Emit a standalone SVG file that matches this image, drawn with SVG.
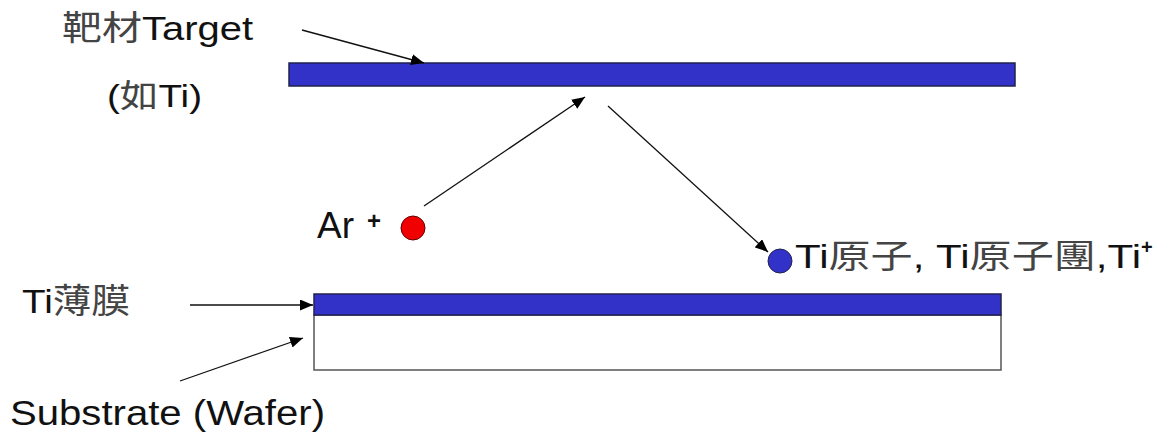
<svg xmlns="http://www.w3.org/2000/svg" width="1159" height="442" viewBox="0 0 1159 442">
<style>
.t{font-family:"Liberation Sans","Noto Sans CJK TC",sans-serif;fill:#111;font-weight:normal;}
.k{fill:#444;}
.p{font-family:"Liberation Sans",sans-serif;font-weight:bold;fill:#111;}
.c{stroke:#111;stroke-width:1.3;fill:none;}
.bar{fill:#3232c8;stroke:#222250;stroke-width:1.5;}
</style>
<defs>
<marker id="ah" viewBox="0 0 13 11" refX="13" refY="5.5" markerWidth="13" markerHeight="11" markerUnits="userSpaceOnUse" orient="auto">
<path d="M0,0 L13,5.5 L0,11 z" fill="#000"/>
</marker>
</defs>
<rect width="1159" height="442" fill="#fff"/>
<g id="target">
<rect class="bar" x="289" y="63" width="726" height="23"/>
</g>
<g id="target-label">
<text class="t" x="62" y="40" font-size="34" textLength="191" lengthAdjust="spacingAndGlyphs"><tspan class="k">靶材</tspan>Target</text>
<text class="t" x="107" y="107" font-size="32" textLength="95" lengthAdjust="spacingAndGlyphs">(<tspan class="k">如</tspan>Ti)</text>
</g>
<g id="ar-ion">
<circle cx="413" cy="228" r="12" fill="#f00000" stroke="#600" stroke-width="1"/>
<text class="t" x="317" y="238" font-size="36" textLength="37" lengthAdjust="spacingAndGlyphs">Ar</text>
<text class="p" x="367" y="229" font-size="24">+</text>
</g>
<g id="ti-atom">
<circle cx="780" cy="261" r="12" fill="#3232c8" stroke="#222250" stroke-width="1"/>
<text class="t" x="795" y="268" font-size="33" textLength="346" lengthAdjust="spacingAndGlyphs">Ti<tspan class="k">原子</tspan>, Ti<tspan class="k">原子團</tspan>,Ti</text>
<text class="p" x="1141" y="254" font-size="20">+</text>
</g>
<g id="ti-film">
<rect x="314" y="315" width="687" height="55" fill="#fff" stroke="#555" stroke-width="1.5"/>
<rect class="bar" x="314" y="294" width="687" height="21"/>
</g>
<g id="film-label">
<text class="t" x="22" y="313" font-size="34" textLength="108" lengthAdjust="spacingAndGlyphs">Ti<tspan class="k">薄膜</tspan></text>
</g>
<g id="substrate-label">
<text class="t" x="10" y="425" font-size="35" textLength="315" lengthAdjust="spacingAndGlyphs">Substrate (Wafer)</text>
</g>
<g id="connectors">
<line class="c" x1="302" y1="30" x2="424" y2="63" marker-end="url(#ah)"/>
<line class="c" x1="424" y1="206" x2="585" y2="97" marker-end="url(#ah)"/>
<line class="c" x1="608" y1="106" x2="768" y2="252" marker-end="url(#ah)"/>
<line class="c" x1="190" y1="305" x2="313" y2="305" marker-end="url(#ah)"/>
<line class="c" x1="180" y1="381" x2="303" y2="338" marker-end="url(#ah)"/>
</g>
</svg>
